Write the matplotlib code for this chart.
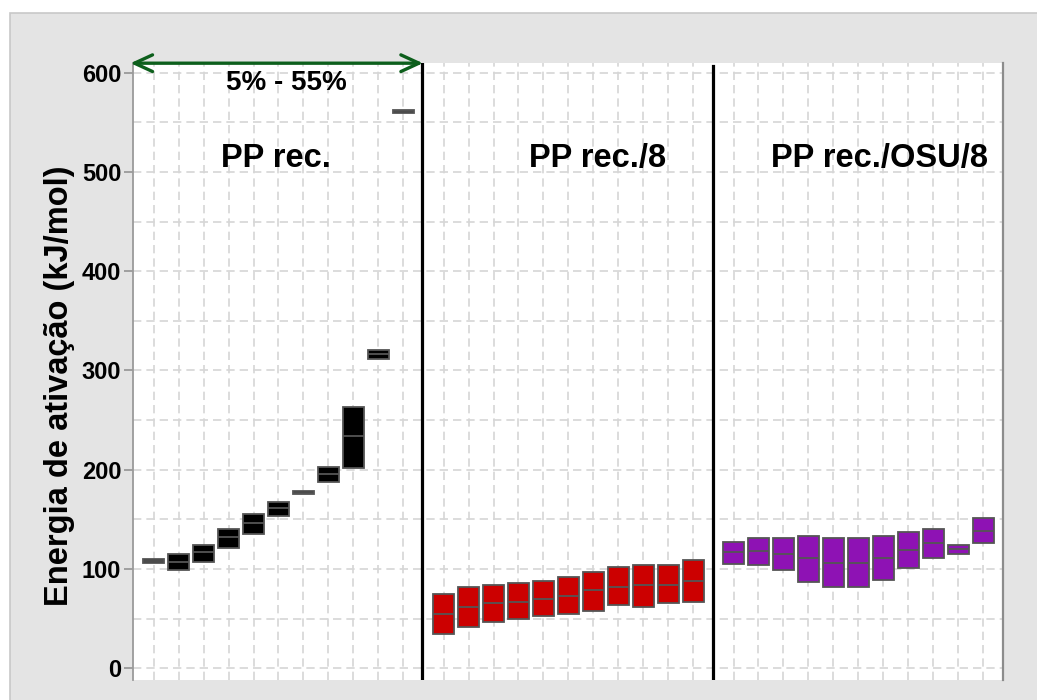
import matplotlib
matplotlib.use("Agg")
import matplotlib.pyplot as plt
from matplotlib.patches import Rectangle

plt.rcParams['font.family'] = ['Liberation Sans', 'DejaVu Sans']
plt.rcParams['font.weight'] = 'bold'

groups = ["PP rec.", "PP rec./8", "PP rec./OSU/8"]
colors = ["#000000", "#cc0000", "#8e12b4"]
y_ticks = [0, 100, 200, 300, 400, 500, 600]

# activation energy ranges per conversion step (5% ... 55%)
pp_low = [106, 99, 107, 121, 135, 153, 175.5, 188, 202, 312, 559.5]
pp_med = [108, 107, 117, 132, 146, 161, 177, 196, 234, 316.5, 561]
pp_high = [110, 115, 124, 140.5, 155, 168, 179, 203, 263, 321, 562.5]

pp8_low = [34.5, 42, 47, 49.5, 52.5, 54.5, 58, 63.5, 62, 65.5, 67]
pp8_med = [54.5, 62, 66, 67, 69.5, 73, 78.5, 82, 84, 84, 88]
pp8_high = [74.5, 82, 84, 85.5, 88, 91.5, 96.5, 102.5, 104, 104, 109]

osu_low = [105.5, 104, 98.5, 87, 81.5, 81.5, 89, 101.5, 111, 115, 126]
osu_med = [117, 118.5, 115, 111, 106, 106, 111, 119, 126.5, 120, 138.5]
osu_high = [127.5, 131.5, 131.5, 133.5, 131.5, 131.5, 133.5, 137, 140.5, 124, 151.5]

series = [(pp_low, pp_med, pp_high), (pp8_low, pp8_med, pp8_high), (osu_low, osu_med, osu_high)]

group_step = 11.62
box_w = 0.84
edge = "#555555"

fig = plt.figure(figsize=(10.37, 7), dpi=100)
fig.patch.set_facecolor("white")
fig.patches.append(Rectangle((10 / 1037, -0.1), 1.2, 1.1 - 13 / 700, transform=fig.transFigure,
                             facecolor="#e4e4e4", edgecolor="#c8c8c8", linewidth=1.2, zorder=-10))

ax = fig.add_axes([133 / 1037, 20 / 700, 870 / 1037, 617.3 / 700])
ax.set_facecolor("white")

all_x = []
for g, (low, med, high) in enumerate(series):
    xs = [g * group_step + i for i in range(len(low))]
    all_x += xs
    heights = [h - l for l, h in zip(low, high)]
    ax.bar(xs, heights, bottom=low, width=box_w, color=colors[g], edgecolor=edge,
           linewidth=1.3, zorder=3)
    ax.hlines(med, [x - box_w / 2 for x in xs], [x + box_w / 2 for x in xs],
              color=edge, linewidth=1.3, zorder=4)

ax.set_xlim(-0.83, 34.04)
ax.set_ylim(-11.8, 610)

ax.set_xticks(all_x)
ax.tick_params(axis='x', length=0, labelbottom=False)
ax.set_yticks(y_ticks)
ax.set_yticks(range(50, 601, 100), minor=True)
ax.tick_params(axis='y', which='minor', length=0)

ax.grid(True, axis='both', which='both', color="#d6d6d6", linewidth=1.2,
        linestyle=(0, (5, 3)), zorder=0)
ax.set_axisbelow(True)
ax.tick_params(axis='y', which='major', length=6.5, width=1.1, color="#8c8c8c", pad=2,
               labelsize=17)

ax.spines['top'].set_visible(False)
ax.spines['bottom'].set_visible(False)
ax.spines['left'].set_color("#9a9a9a")
ax.spines['left'].set_linewidth(1.3)
ax.spines['right'].set_color("#8c8c8c")
ax.spines['right'].set_linewidth(1.6)

# group separators
ax.axvline(10.74, ymin=0, ymax=1, color="black", linewidth=2.3, zorder=5)
ax.axvline(group_step + 10.79, ymin=0, ymax=0.994, color="black", linewidth=2.3, zorder=5)

label_x = [4.9, 17.8, 29.1]
for name, lx in zip(groups, label_x):
    ax.text(lx, 505, name, ha='center', va='baseline', fontsize=23.5, fontweight='bold', zorder=6)

ax.annotate("", xy=(10.79, 609.5), xytext=(-0.93, 609.5),
            arrowprops=dict(arrowstyle="<->,head_length=0.65,head_width=0.3", color="#0d5f1c",
                            linewidth=2.4, shrinkA=0, shrinkB=0, mutation_scale=20),
            annotation_clip=False, zorder=7)
ax.text(5.31, 582, "5% - 55%", ha='center', va='baseline', fontsize=20, fontweight='bold', zorder=6)

ax.set_ylabel("Energia de ativação (kJ/mol)", fontsize=23.5, fontweight='bold')
ax.yaxis.set_label_coords(-0.085, 0.476)
ax.yaxis.label.set_verticalalignment('center')

fig.savefig("out.png", dpi=100)
plt.close()
